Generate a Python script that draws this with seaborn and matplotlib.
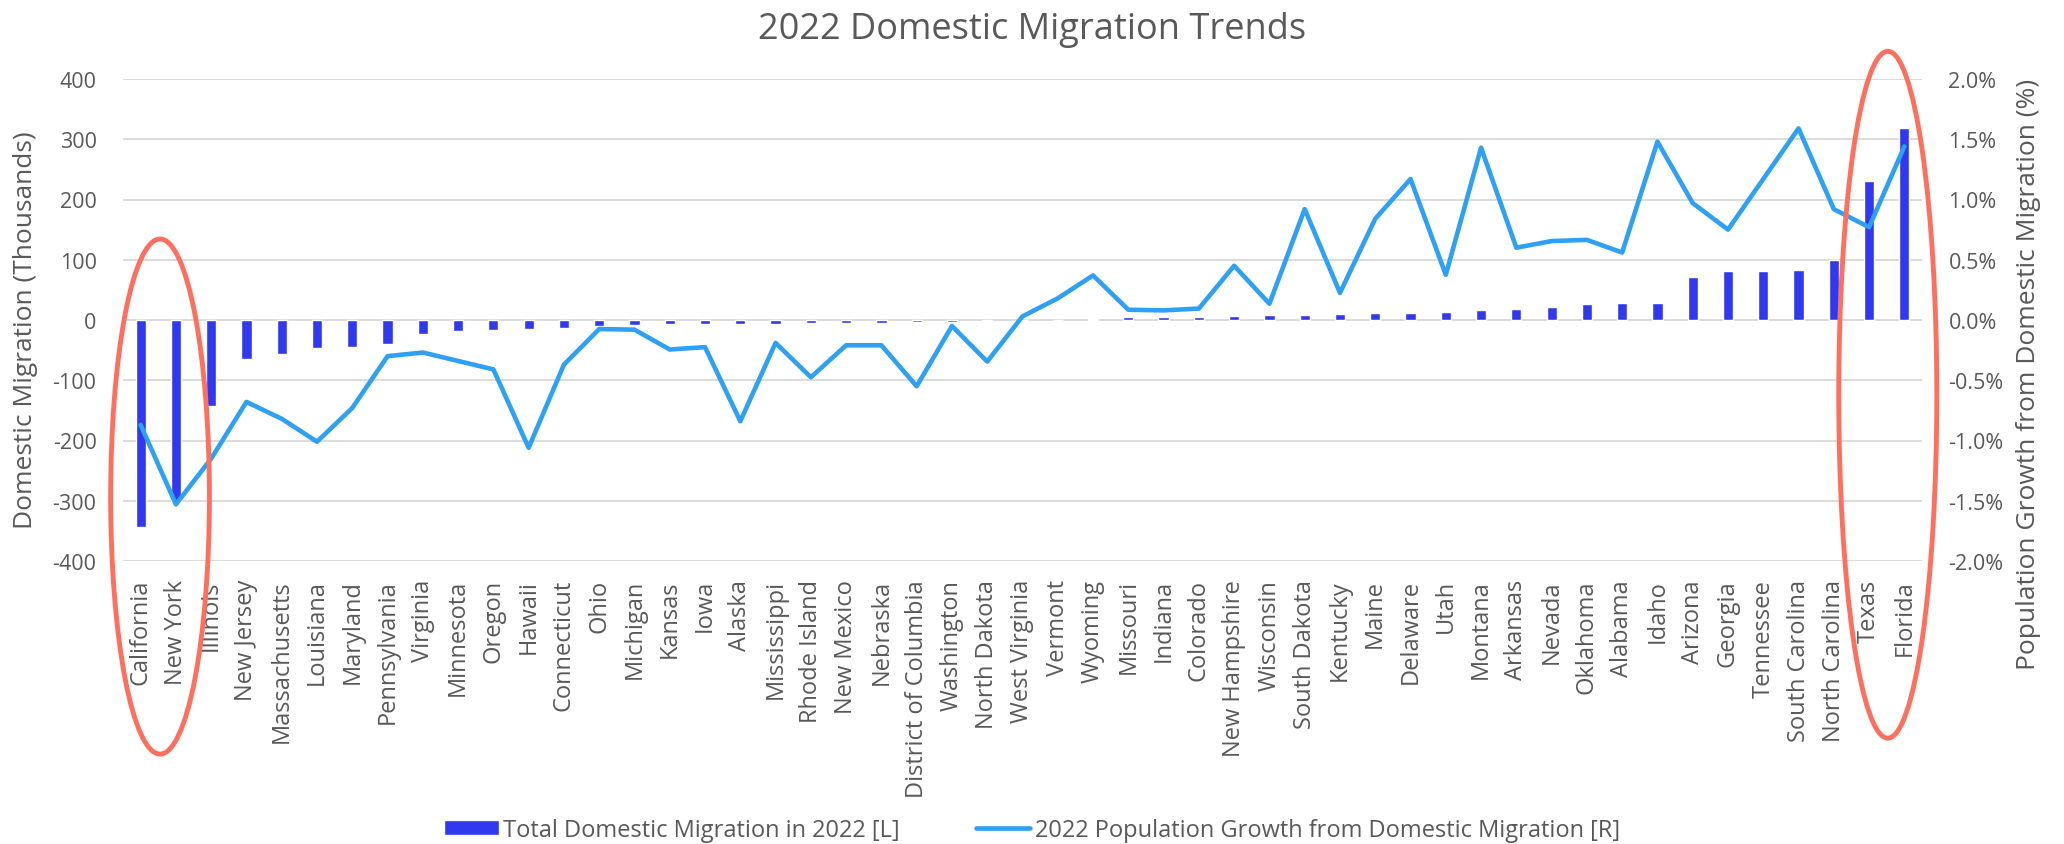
import matplotlib
matplotlib.use("Agg")
import matplotlib.pyplot as plt
from matplotlib.patches import Ellipse
from matplotlib.ticker import FuncFormatter
import seaborn as sns
import pandas as pd

# 2022 domestic migration by state (thousands) and growth from it (%)
states = ["California", "New York", "Illinois", "New Jersey", "Massachusetts", "Louisiana",
          "Maryland", "Pennsylvania", "Virginia", "Minnesota", "Oregon", "Hawaii", "Connecticut",
          "Ohio", "Michigan", "Kansas", "Iowa", "Alaska", "Mississippi", "Rhode Island",
          "New Mexico", "Nebraska", "District of Columbia", "Washington", "North Dakota",
          "West Virginia", "Vermont", "Wyoming", "Missouri", "Indiana", "Colorado",
          "New Hampshire", "Wisconsin", "South Dakota", "Kentucky", "Maine", "Delaware", "Utah",
          "Montana", "Arkansas", "Nevada", "Oklahoma", "Alabama", "Idaho", "Arizona", "Georgia",
          "Tennessee", "South Carolina", "North Carolina", "Texas", "Florida"]

migration = [-343, -300, -142, -64, -57, -47, -45, -40, -24, -19, -17, -15.5, -13,
             -9.5, -9, -7, -6.5, -6.5, -6, -5.5, -4.5, -4.5, -4, -4, -2.2,
             -0.6, 0.5, 1, 4.4, 4.4, 5, 6.6, 7.7, 8.3, 10, 11.5, 11.6, 12.7,
             16, 18.3, 21, 26.6, 28.2, 28.2, 71, 81, 81, 83.5, 100, 230, 318]

growth = [-0.87, -1.53, -1.15, -0.68, -0.82, -1.01, -0.73, -0.30, -0.27, -0.34, -0.41, -1.06,
          -0.37, -0.075, -0.08, -0.245, -0.225, -0.84, -0.19, -0.475, -0.21, -0.21, -0.55,
          -0.05, -0.345, 0.03, 0.18, 0.37, 0.085, 0.08, 0.095, 0.45, 0.135, 0.92, 0.225, 0.84,
          1.17, 0.375, 1.43, 0.60, 0.655, 0.665, 0.56, 1.48, 0.97, 0.75, 1.17, 1.59, 0.92,
          0.77, 1.44]

bar_label = "Total Domestic Migration in 2022 [L]"
line_label = "2022 Population Growth from Domestic Migration [R]"

df = pd.DataFrame({"state": states, "migration": migration, "growth": growth})

sns.set_style("white")
plt.rcParams["font.family"] = ["Open Sans", "DejaVu Sans"]
plt.rcParams["axes.unicode_minus"] = False

grey = "#595959"
bar_col = "#3039F0"
line_col = "#2EA0F5"
ring_col = "#FF6F5E"

fig = plt.figure(figsize=(20.64, 8.45), dpi=100)
ax = fig.add_axes([123 / 2064, 1 - 562 / 845, 1799 / 2064, 482 / 845])

sns.barplot(data=df, x="state", y="migration", color=bar_col, saturation=1,
            width=0.29, ax=ax)
ax.set_ylim(-400, 400)
ax.set_yticks(range(-400, 401, 100))
ax.set_xlim(-0.5, len(states) - 0.5)
ax.grid(axis="y", color="#D9D9D9", lw=1.3)
ax.set_axisbelow(True)
ax.set_xlabel("")
ax.set_ylabel("Domestic Migration (Thousands)", fontsize=19, color=grey)
ax.yaxis.set_label_coords(-0.047, 0.481)
ax.tick_params(axis="y", length=0, pad=19, labelsize=15.5, labelcolor=grey)
ax.tick_params(axis="x", length=0, pad=13, labelsize=17, labelcolor=grey, rotation=90)
for s in ax.spines.values():
    s.set_visible(False)

ax2 = ax.twinx()
sns.lineplot(data=df, x="state", y="growth", color=line_col, lw=3.3, sort=False, ax=ax2)
ax2.set_ylim(-2, 2)
ax2.set_yticks([-2, -1.5, -1, -0.5, 0, 0.5, 1, 1.5, 2])
ax2.yaxis.set_major_formatter(FuncFormatter(lambda v, p: f"{v:.1f}%"))
ax2.set_ylabel("Population Growth from Domestic Migration (%)", fontsize=19, color=grey)
ax2.yaxis.set_label_coords(1.0525, 0.39)
ax2.tick_params(axis="y", length=0, pad=19, labelsize=15.5, labelcolor=grey)
ax2.grid(False)
for s in ax2.spines.values():
    s.set_visible(False)

# highlight rings around the biggest losers and gainers
for cx, cy, w, h in [(0.55, -293, 2.8, 855), (49.53, -124, 2.78, 1140)]:
    ax2.add_patch(Ellipse((cx, cy), w, h, transform=ax.transData, fill=False,
                          edgecolor=ring_col, lw=3.5, clip_on=False, zorder=5))
ax2.set_ylim(-2, 2)

fig.text(0.5, 1 - 39 / 845, "2022 Domestic Migration Trends", fontsize=26, color=grey,
         ha="center", va="baseline")

handles = [ax.patches[0], ax2.lines[0]]
fig.legend(handles, [bar_label, line_label], loc="center", bbox_to_anchor=(0.5, 0.0166),
           ncol=2, frameon=False, fontsize=17, labelcolor=grey, handlelength=2.3,
           handleheight=0.64, handletextpad=0.2, columnspacing=3.2)

fig.savefig("out.png", dpi=100)
